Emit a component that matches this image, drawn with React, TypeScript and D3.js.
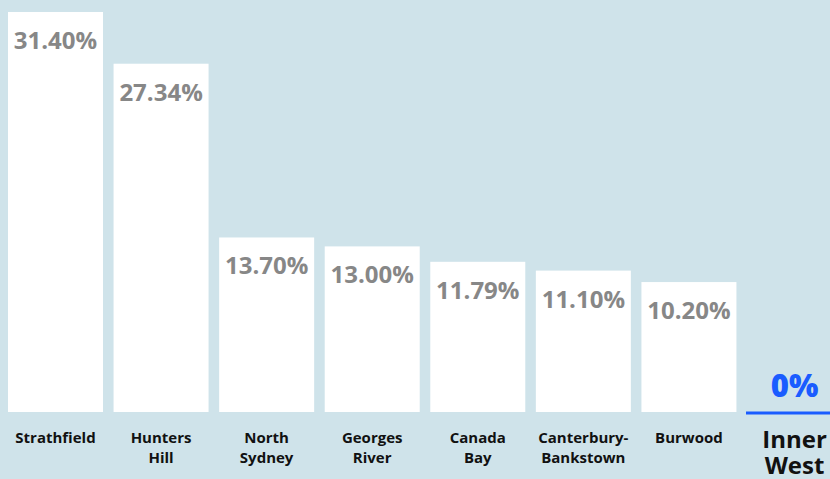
import React from "react";
import * as d3 from "d3";

const categories = [
  ["Strathfield"],
  ["Hunters", "Hill"],
  ["North", "Sydney"],
  ["Georges", "River"],
  ["Canada", "Bay"],
  ["Canterbury-", "Bankstown"],
  ["Burwood"],
  ["Inner", "West"],
];
const values = [31.4, 27.34, 13.7, 13.0, 11.79, 11.1, 10.2, 0];
const valueLabels = ["31.40%", "27.34%", "13.70%", "13.00%", "11.79%", "11.10%", "10.20%", "0%"];
const highlightIndex = 7;

const BG = "#cfe3ea";
const BLUE = "#1a5cff";
const GRAY = "#878787";
const FONT = "'Open Sans', 'Noto Sans', sans-serif";

export default function App() {
  const svgW = 850;
  const H = 479;
  const left = 8;
  const right = 842;
  const baseY = 412;
  const topY = 12;
  const n = categories.length;
  const step = (747 - 8) / (n - 1);
  const gap = step - 95;

  const x = d3
    .scaleBand<number>()
    .domain(d3.range(n))
    .range([left, right])
    .paddingInner(gap / step)
    .paddingOuter(0)
    .align(0);

  const y = d3.scaleLinear().domain([0, 31.4]).range([baseY, topY]);

  return (
    <div
      style={{
        position: "fixed",
        left: 0,
        top: 0,
        width: 830,
        height: 479,
        overflow: "hidden",
        background: BG,
      }}
    >
      <svg width={svgW} height={H} style={{ display: "block" }}>
        <rect x={0} y={0} width={svgW} height={H} fill={BG} />
        {values.map((v, i) => {
          const bx = x(i)!;
          const bw = x.bandwidth();
          const cx = bx + bw / 2;
          const isHi = i === highlightIndex;
          return (
            <g key={i}>
              {isHi ? (
                <>
                  <rect x={bx - 1} y={y(0) - 0.5} width={bw + 2} height={3} fill={BLUE} />
                  <text
                    x={cx}
                    y={y(0) - 15}
                    textAnchor="middle"
                    fontFamily={FONT}
                    fontWeight={800}
                    fontSize={31}
                    fill={BLUE}
                  >
                    {valueLabels[i]}
                  </text>
                </>
              ) : (
                <>
                  <rect x={bx} y={y(v)} width={bw} height={y(0) - y(v)} fill="#ffffff" />
                  <text
                    x={cx}
                    y={y(v) + 37}
                    textAnchor="middle"
                    fontFamily={FONT}
                    fontWeight={700}
                    fontSize={24}
                    fill={GRAY}
                  >
                    {valueLabels[i]}
                  </text>
                </>
              )}
              {categories[i].map((line, j) => (
                <text
                  key={j}
                  x={cx}
                  y={isHi ? 448 + j * 26 : 443 + j * 20}
                  textAnchor="middle"
                  fontFamily={FONT}
                  fontWeight={700}
                  fontSize={isHi ? 24 : 15}
                  fill="#111111"
                >
                  {line}
                </text>
              ))}
            </g>
          );
        })}
      </svg>
    </div>
  );
}
